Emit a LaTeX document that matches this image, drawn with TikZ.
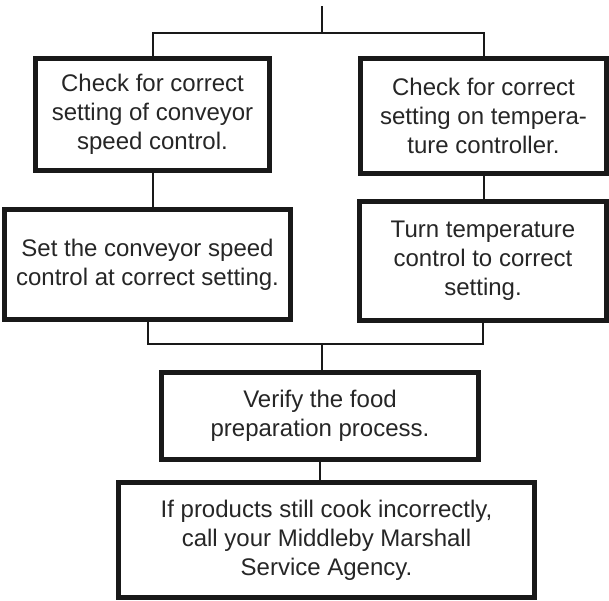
\documentclass[tikz,border=0pt]{standalone}
\usepackage{fontspec}
\setmainfont{Liberation Sans}
\begin{document}
\begin{tikzpicture}[x=1pt,y=1pt,
  box/.style={draw=black!90, line width=5pt, fill=white, align=center, inner sep=0pt,
    font=\fontsize{24}{29}\selectfont, text=black!85},
  conn/.style={draw=black!90, line width=2pt}]
\useasboundingbox (0,0) rectangle (609,-600);
\node[box, minimum width=234pt, minimum height=112pt] (b1) at (152.5,-114.5) {Check for correct\\setting of conveyor\\speed control.};
\node[box, minimum width=246pt, minimum height=115pt] (b2) at (483.5,-116) {Check for correct\\setting on tempera-\\ture controller.};
\node[box, minimum width=286pt, minimum height=110pt] (b3) at (147.5,-264.5) {Set the conveyor speed\\control at correct setting.};
\node[box, minimum width=247pt, minimum height=119pt] (b4) at (483,-261) {Turn temperature\\control to correct\\setting.};
\node[box, minimum width=317pt, minimum height=87pt] (b5) at (320,-416) {Verify the food\\preparation process.};
\node[box, minimum width=416pt, minimum height=115pt] (b6) at (326.5,-540) {If products still cook incorrectly,\\call your Middleby Marshall\\Service Agency.};
\coordinate (t) at (322,-6);
\coordinate (j1) at (322,-33);
\coordinate (j2) at (322,-344);
\draw[conn] (t) -- (j1);
\draw[conn] (b1.north) |- (j1) -| (b2.north);
\draw[conn] (b1.south) -- (b1.south |- b3.north);
\draw[conn] (b2.south) -- (b2.south |- b4.north);
\draw[conn] (b3.south) |- (j2) -| (b4.south);
\draw[conn] (j2) -- (j2 |- b5.north);
\draw[conn] (b5.south) -- (b5.south |- b6.north);
\end{tikzpicture}
\end{document}
